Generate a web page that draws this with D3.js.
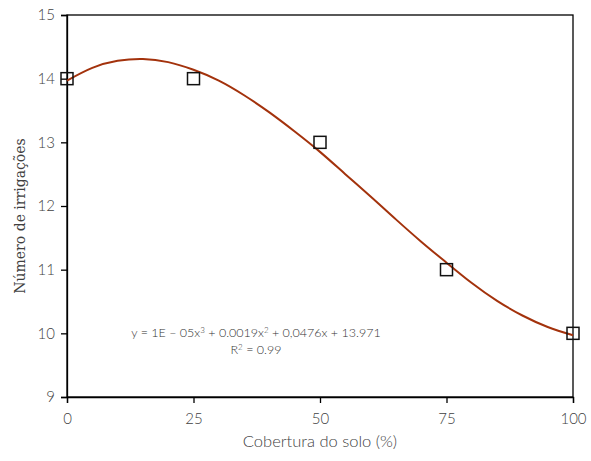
<!DOCTYPE html>
<html>
<head>
<meta charset="utf-8">
<script src="https://cdn.jsdelivr.net/npm/d3@7"></script>
<style>
  body { margin: 0; background: #fff; }
  svg { display: block; }
</style>
</head>
<body>
<svg id="chart" width="591" height="461"></svg>
<script>
// Observed points
const coverX = [0, 25, 50, 75, 100];
const irrigY = [14, 14, 13, 11, 10];
// Polynomial trend line
const trendX = [0, 5, 10, 15, 20, 25, 30, 35, 40, 45, 50, 55, 60, 65, 70, 75, 80, 85, 90, 95, 100];
const trendY = [13.97, 14.17, 14.28, 14.31, 14.26, 14.14, 13.97, 13.74, 13.47, 13.17, 12.85, 12.50, 12.15, 11.79, 11.44, 11.11, 10.79, 10.51, 10.28, 10.10, 9.97];
const xTicks = [0, 25, 50, 75, 100];
const yTicks = [9, 10, 11, 12, 13, 14, 15];
const xTitle = "Cobertura do solo (%)";
const yTitle = "Número de irrigações";
const eqLine1 = ["y = 1E – 05x", "3", " + 0.0019x", "2", " + 0,0476x + 13.971"];
const eqLine2 = ["R", "2", " = 0.99"];

(function () {
const svg = d3.select("#chart");
const mLeft = 67, mRight = 573, mTop = 15, mBottom = 397;
const x = d3.scaleLinear().domain([0, 100]).range([mLeft, mRight]);
const y = d3.scaleLinear().domain([9, 15]).range([mBottom, mTop]);
const textColor = "#3f3f3f";
const font = "Lato, 'Open Sans', sans-serif";

// frame
svg.append("rect").attr("x", mLeft).attr("y", mTop)
  .attr("width", mRight - mLeft).attr("height", mBottom - mTop)
  .attr("fill", "none").attr("stroke", "#000").attr("stroke-width", 1.3);

// axes
const xAxis = svg.append("g").attr("transform", `translate(0,${mBottom})`)
  .call(d3.axisBottom(x).tickValues(xTicks).tickSize(6).tickPadding(10).tickFormat(d3.format("d")));
const yAxis = svg.append("g").attr("transform", `translate(${mLeft},0)`)
  .call(d3.axisLeft(y).tickValues(yTicks).tickSize(6).tickPadding(6).tickFormat(d3.format("d")));
[xAxis, yAxis].forEach(g => {
  g.select(".domain").attr("stroke", "#000").attr("stroke-width", 1.3);
  g.selectAll(".tick line").attr("stroke", "#000").attr("stroke-width", 1.3);
  g.selectAll(".tick text").attr("fill", textColor).style("font-family", font).style("font-size", "15px").style("font-weight", 300);
});

// trend line
const line = d3.line().x(d => x(d[0])).y(d => y(d[1])).curve(d3.curveNatural);
svg.append("path").datum(trendX.map((v, i) => [v, trendY[i]]))
  .attr("d", line).attr("fill", "none").attr("stroke", "#a3320c").attr("stroke-width", 2);

// markers
const s = 12;
svg.selectAll("rect.pt").data(coverX.map((v, i) => [v, irrigY[i]])).enter()
  .append("rect").attr("class", "pt")
  .attr("x", d => x(d[0]) - s / 2).attr("y", d => y(d[1]) - s / 2)
  .attr("width", s).attr("height", s)
  .attr("fill", "none").attr("stroke", "#111").attr("stroke-width", 1.5);

// titles
svg.append("text").attr("x", 320).attr("y", 447).attr("text-anchor", "middle")
  .attr("fill", textColor).style("font-family", font).style("font-size", "16.5px").style("font-weight", 300)
  .text(xTitle);
svg.append("text").attr("transform", `translate(25,216) rotate(-90)`)
  .attr("text-anchor", "middle").attr("fill", textColor)
  .style("font-family", "'DejaVu Serif', 'Liberation Serif', serif").style("font-size", "14px")
  .text(yTitle);

// equation
function supText(parts, cx, cy) {
  const t = svg.append("text").attr("x", cx).attr("y", cy).attr("text-anchor", "middle")
    .attr("fill", "#333").style("font-family", font).style("font-size", "12.5px").style("font-weight", 300);
  parts.forEach((p, i) => {
    const ts = t.append("tspan").text(p);
    if (i % 2 === 1) ts.attr("dy", -4).style("font-size", "8px");
    else if (i > 0) ts.attr("dy", 4);
  });
}
supText(eqLine1, 256, 337);
supText(eqLine2, 256, 354);
})();
</script>
</body>
</html>
